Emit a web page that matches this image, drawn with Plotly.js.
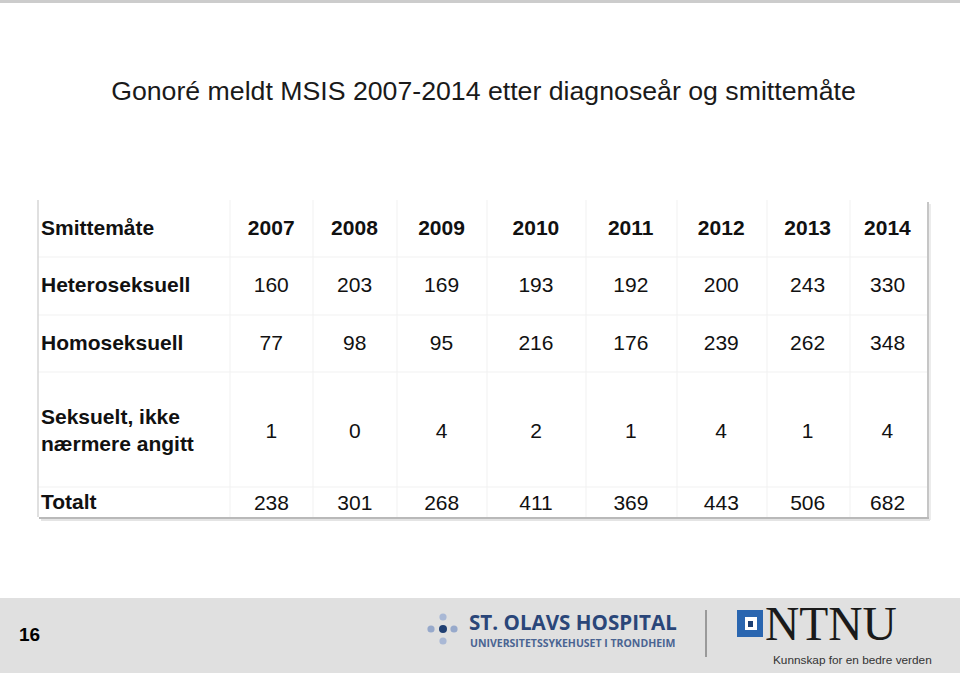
<!DOCTYPE html>
<html><head><meta charset="utf-8">
<script src="https://cdn.plot.ly/plotly-3.0.1.min.js"></script>
<style>html,body{margin:0;padding:0;background:#fff;}#chart{width:960px;height:673px;}</style>
</head><body><div id="chart"></div>
<script>
// ---- data ----
const chartTitle = "Gonoré meldt MSIS 2007-2014 etter diagnoseår og smittemåte";
const headerLabel = "Smittemåte";
const years = ["2007","2008","2009","2010","2011","2012","2013","2014"];
const categories = ["Heteroseksuell","Homoseksuell","Seksuelt, ikke|nærmere angitt","Totalt"];
const heteroseksuell = [160,203,169,193,192,200,243,330];
const homoseksuell   = [77,98,95,216,176,239,262,348];
const ikkeAngitt     = [1,0,4,2,1,4,1,4];
const totalt         = [238,301,268,411,369,443,506,682];
const slideNumber = "16";

// ---- layout constants ----
const W=960, H=673;
const X=p=>p/W, Y=p=>1-p/H;
const F="Liberation Sans, Arial, sans-serif";
const colW=[192,83,84,90,99,91,90,83,77];
const tableLeft=38, tableTop=200;
const rowH=[57,58,57,115,30];
const edges=[tableLeft]; colW.forEach(w=>edges.push(edges[edges.length-1]+w));
const rowEdges=[tableTop]; rowH.forEach(h=>rowEdges.push(rowEdges[rowEdges.length-1]+h));
const textOff=21;
const noHeadOff=14;
const labelShift=5;
const clear='rgba(0,0,0,0)';
const bold=s=>s.split('|').map(t=>'<b>'+t+'</b>').join('<br>');
const str=v=>'<span>'+String(v)+'</span>';
const cellFont={family:F,size:21,color:'#111'};

const c0=(rowEdges[0]+rowEdges[1])/2;
const t1Top=c0-textOff, t1H=57.5;
const t2Top=417-textOff-noHeadOff-1, t2H=85;
const t3Top=(rowEdges[3]+rowEdges[4])/2-textOff-noHeadOff, t3H=72;

const t1={type:'table',
  domain:{x:[X(tableLeft-labelShift),X(edges[9])], y:[Y(t1Top+t1H*3+4),Y(t1Top)]},
  columnwidth:[colW[0]+labelShift,...colW.slice(1)],
  header:{values:[bold(headerLabel),...years.map(y=>bold(y))],height:t1H,align:['left','center'],
    font:cellFont,fill:{color:clear},line:{color:clear,width:0}},
  cells:{values:[[bold(categories[0]),bold(categories[1])],...years.map((_,i)=>[str(heteroseksuell[i]),str(homoseksuell[i])])],
    height:t1H,align:['left','center'],font:cellFont,fill:{color:clear},line:{color:clear,width:0}}
};
const t2={type:'table',
  domain:{x:[X(tableLeft-labelShift),X(edges[1])], y:[Y(t2Top+t2H*2+20),Y(t2Top)]},
  header:{values:[],height:0,line:{color:clear,width:0},fill:{color:clear}},
  cells:{values:[[bold(categories[2]),bold(categories[3])]],height:t2H,align:'left',font:cellFont,
    fill:{color:clear},line:{color:clear,width:0}}
};
const t3={type:'table',
  domain:{x:[X(edges[1]),X(edges[9])], y:[Y(t3Top+t3H*2+20),Y(t3Top)]},
  columnwidth:colW.slice(1),
  header:{values:[],height:0,line:{color:clear,width:0},fill:{color:clear}},
  cells:{values:years.map((_,i)=>[str(ikkeAngitt[i]),str(totalt[i])]),height:t3H,align:'center',font:cellFont,
    fill:{color:clear},line:{color:clear,width:0}}
};

const shapes=[];
const rect=(x0,y0,x1,y1,fill,extra)=>Object.assign({type:'rect',xref:'paper',yref:'paper',x0:X(x0),x1:X(x1),y0:Y(y1),y1:Y(y0),fillcolor:fill,line:{width:0},layer:'below'},extra||{});
const line=(x0,y0,x1,y1,color,w)=>({type:'line',xref:'paper',yref:'paper',x0:X(x0),x1:X(x1),y0:Y(y0),y1:Y(y1),line:{color:color,width:w},layer:'below'});
shapes.push(rect(0,0,W,3,'#cccccc'));
shapes.push(rect(0,598,W,H,'#e0e0e0'));
edges.slice(1,9).forEach(x=>shapes.push(line(x,rowEdges[0],x,rowEdges[5],'#f1f1f1',1)));
rowEdges.slice(1,5).forEach(y=>shapes.push(line(edges[0],y,edges[9],y,'#f1f1f1',1)));
shapes.push(line(edges[0],rowEdges[0],edges[0],rowEdges[5],'#d6d6d6',1.5));
shapes.push(line(edges[9]+1,rowEdges[0]+2,edges[9]+1,rowEdges[5]+1,'#c6c6c6',2));
shapes.push(line(edges[9]+3,rowEdges[0]+4,edges[9]+3,rowEdges[5]+3,'#ececec',2));
shapes.push(line(edges[0]+1,rowEdges[5]+1,edges[9]+2,rowEdges[5]+1,'#b9b9b9',2));
shapes.push(line(edges[0]+3,rowEdges[5]+3,edges[9]+3,rowEdges[5]+3,'#e4e4e4',2));
const dot=(cx,cy,r,col)=>({type:'circle',xref:'paper',yref:'paper',x0:X(cx-r),x1:X(cx+r),y0:Y(cy+r),y1:Y(cy-r),fillcolor:col,line:{width:0}});
shapes.push(dot(443,629,4,'#1f3f73'));
shapes.push(dot(431,629,3.6,'#97a9cb'));
shapes.push(dot(454,629,3.6,'#97a9cb'));
shapes.push(dot(443,617,3.6,'#a9b8d5'));
shapes.push(dot(443,641,3.6,'#a9b8d5'));
shapes.push(line(706,610,706,657,'#555555',1));
shapes.push(Object.assign(rect(737,610,763,637,'#2a66b0'),{layer:'above'}));
shapes.push(Object.assign(rect(745,617,757,630,'#ffffff'),{layer:'above'}));
shapes.push(Object.assign(rect(748,621,753,627,'#1d3f72'),{layer:'above'}));

const ann=(x,y,text,font,xanchor,extra)=>Object.assign({xref:'paper',yref:'paper',x:X(x),y:Y(y),text:text,showarrow:false,font:font,xanchor:xanchor||'left',yanchor:'middle'},extra||{});
const annotations=[
  ann(29,634,'<b>'+slideNumber+'</b>',{family:F,size:19,color:'#000'},'center'),
  ann(467,622,'<b>ST. OLAVS HOSPITAL</b>',{family:'Open Sans, sans-serif',size:20.6,color:'#2a4679'},'left',{height:18}),
  ann(468,643,'<b>UNIVERSITETSSYKEHUSET I TRONDHEIM</b>',{family:'Open Sans, sans-serif',size:10.5,color:'#4a6492'},'left',{height:10}),
  ann(763,624,'NTNU',{family:'Liberation Serif, serif',size:47.5,color:'#1a1a1a'},'left',{height:36}),
  ann(771,660,'Kunnskap for en bedre verden',{family:F,size:11.8,color:'#333'})
];

const layout={width:W,height:H,margin:{l:0,r:0,t:0,b:0},paper_bgcolor:'#fff',plot_bgcolor:'#fff',
  showlegend:false,
  title:{text:chartTitle,x:X(483.5),xanchor:'center',y:Y(91),yanchor:'middle',yref:'container',xref:'container',
    font:{family:F,size:26.7,color:'#1a1a1a'}},
  shapes:shapes, annotations:annotations};
Plotly.newPlot('chart',[t1,t2,t3],layout,{displayModeBar:false,staticPlot:true});
</script></body></html>
